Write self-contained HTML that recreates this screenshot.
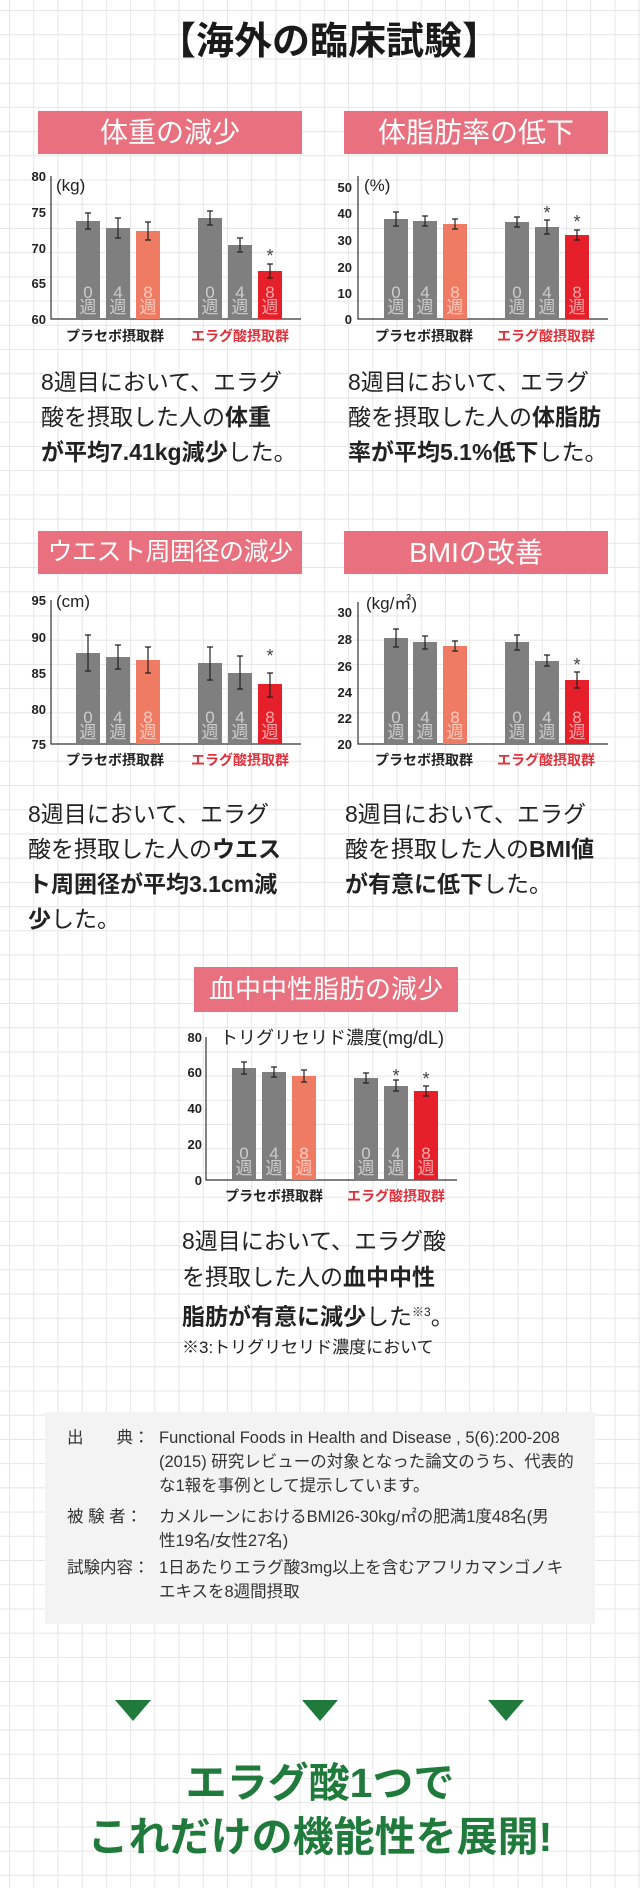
<!DOCTYPE html>
<html><head><meta charset="utf-8">
<style>
*{margin:0;padding:0;box-sizing:border-box}
body{width:640px;height:1888px;position:relative;overflow:hidden;background-color:#fff;
background-image:linear-gradient(to right,#e6e6e6 1.2px,transparent 1.2px),linear-gradient(to bottom,#e6e6e6 1.2px,transparent 1.2px);
background-size:24.22px 24.22px;background-position:9px 10px;
font-family:"Liberation Sans","Noto Sans CJK JP",sans-serif;color:#222}
.a{position:absolute;white-space:nowrap}
.h{position:absolute;background:#e8707f;color:#fff;font-size:28px;text-align:center;font-weight:normal;white-space:nowrap;overflow:hidden}
.p{position:absolute;white-space:nowrap;font-size:23px;line-height:35px;color:#222}
.p b{font-weight:bold}
svg{position:absolute;left:0;top:0}
svg text{font-family:"Liberation Sans","Noto Sans CJK JP",sans-serif}
.box{position:absolute;left:45px;top:1412px;width:550px;height:212px;background:#f3f3f3}
.f{position:absolute;font-size:16.5px;line-height:24px;color:#333;white-space:nowrap}
.g{position:absolute;left:0;width:640px;text-align:center;color:#1f7a3c;font-weight:bold;font-size:41px;white-space:nowrap}
</style></head><body>

<div class="a" style="left:158px;top:19px;font-size:38px;font-weight:bold;line-height:46px;color:#1a1a1a">【海外の臨床試験】</div>

<div class="h" style="left:38px;top:111px;width:264px;height:43px;line-height:43px">体重の減少</div>
<div class="h" style="left:344px;top:111px;width:264px;height:43px;line-height:43px">体脂肪率の低下</div>
<div class="h" style="left:38px;top:531px;width:264px;height:43px;line-height:43px;font-size:25px;letter-spacing:-0.5px">ウエスト周囲径の減少</div>
<div class="h" style="left:344px;top:531px;width:264px;height:43px;line-height:43px">BMIの改善</div>
<div class="h" style="left:194px;top:967px;width:264px;height:45px;line-height:45px;font-size:26px">血中中性脂肪の減少</div>

<svg width="640" height="1888" viewBox="0 0 640 1888">
<g stroke="#333" stroke-width="1.2" fill="none">
<path d="M51 176V319H301"/><path d="M358 176V319H608"/>
<path d="M51 600V744H301"/><path d="M358 602V744H608"/>
<path d="M206 1037V1180H457"/>
</g>
<g font-size="13" font-weight="bold" fill="#222" text-anchor="end">
<text x="46" y="181">80</text><text x="46" y="217">75</text><text x="46" y="253">70</text><text x="46" y="288">65</text><text x="46" y="324">60</text>
<text x="352" y="192">50</text><text x="352" y="218">40</text><text x="352" y="245">30</text><text x="352" y="272">20</text><text x="352" y="298">10</text><text x="352" y="324">0</text>
<text x="46" y="605">95</text><text x="46" y="642">90</text><text x="46" y="678">85</text><text x="46" y="714">80</text><text x="46" y="749">75</text>
<text x="352" y="617">30</text><text x="352" y="644">28</text><text x="352" y="671">26</text><text x="352" y="697">24</text><text x="352" y="723">22</text><text x="352" y="749">20</text>
<text x="202" y="1042">80</text><text x="202" y="1077">60</text><text x="202" y="1113">40</text><text x="202" y="1149">20</text><text x="202" y="1185">0</text>
</g>
<g font-size="17" fill="#222">
<text x="56" y="191">(kg)</text><text x="364" y="191">(%)</text>
<text x="56" y="607">(cm)</text><text x="366" y="609">(kg/㎡)</text>
<text x="220" y="1044" font-size="18">トリグリセリド濃度(mg/dL)</text>
</g>
<g>
<rect x="76" y="221" width="24" height="98" fill="#7f7f7f"/><rect x="106" y="228" width="24" height="91" fill="#7f7f7f"/><rect x="136" y="231" width="24" height="88" fill="#ef7b63"/>
<rect x="198" y="218" width="24" height="101" fill="#7f7f7f"/><rect x="228" y="245" width="24" height="74" fill="#7f7f7f"/><rect x="258" y="271" width="24" height="48" fill="#e5202a"/>
<rect x="384" y="219" width="24" height="100" fill="#7f7f7f"/><rect x="413" y="221" width="24" height="98" fill="#7f7f7f"/><rect x="443" y="224" width="24" height="95" fill="#ef7b63"/>
<rect x="505" y="222" width="24" height="97" fill="#7f7f7f"/><rect x="535" y="227" width="24" height="92" fill="#7f7f7f"/><rect x="565" y="235" width="24" height="84" fill="#e5202a"/>
<rect x="76" y="653" width="24" height="91" fill="#7f7f7f"/><rect x="106" y="657" width="24" height="87" fill="#7f7f7f"/><rect x="136" y="660" width="24" height="84" fill="#ef7b63"/>
<rect x="198" y="663" width="24" height="81" fill="#7f7f7f"/><rect x="228" y="673" width="24" height="71" fill="#7f7f7f"/><rect x="258" y="684" width="24" height="60" fill="#e5202a"/>
<rect x="384" y="638" width="24" height="106" fill="#7f7f7f"/><rect x="413" y="642" width="24" height="102" fill="#7f7f7f"/><rect x="443" y="646" width="24" height="98" fill="#ef7b63"/>
<rect x="505" y="642" width="24" height="102" fill="#7f7f7f"/><rect x="535" y="661" width="24" height="83" fill="#7f7f7f"/><rect x="565" y="680" width="24" height="64" fill="#e5202a"/>
<rect x="232" y="1068" width="24" height="112" fill="#7f7f7f"/><rect x="262" y="1072" width="24" height="108" fill="#7f7f7f"/><rect x="292" y="1076" width="24" height="104" fill="#ef7b63"/>
<rect x="354" y="1078" width="24" height="102" fill="#7f7f7f"/><rect x="384" y="1086" width="24" height="94" fill="#7f7f7f"/><rect x="414" y="1091" width="24" height="89" fill="#e5202a"/>
</g>
<g stroke="#222" stroke-width="1.2" fill="none">
<path d="M88 213V229M85 213H91M85 229H91"/><path d="M118 218V238M115 218H121M115 238H121"/><path d="M148 222V240M145 222H151M145 240H151"/>
<path d="M210 211V225M207 211H213M207 225H213"/><path d="M240 238V252M237 238H243M237 252H243"/><path d="M270 264V278M267 264H273M267 278H273"/>
<path d="M396 212V226M393 212H399M393 226H399"/><path d="M425 216V226M422 216H428M422 226H428"/><path d="M455 219V229M452 219H458M452 229H458"/>
<path d="M517 217V227M514 217H520M514 227H520"/><path d="M547 220V234M544 220H550M544 234H550"/><path d="M577 230V240M574 230H580M574 240H580"/>
<path d="M88 635V671M85 635H91M85 671H91"/><path d="M118 645V669M115 645H121M115 669H121"/><path d="M148 647V673M145 647H151M145 673H151"/>
<path d="M210 647V680M207 647H213M207 680H213"/><path d="M240 656V689M237 656H243M237 689H243"/><path d="M270 673V697M267 673H273M267 697H273"/>
<path d="M396 629V647M393 629H399M393 647H399"/><path d="M425 636V649M422 636H428M422 649H428"/><path d="M455 641V651M452 641H458M452 651H458"/>
<path d="M517 635V650M514 635H520M514 650H520"/><path d="M547 655V666M544 655H550M544 666H550"/><path d="M577 672V688M574 672H580M574 688H580"/>
<path d="M244 1062V1074M241 1062H247M241 1074H247"/><path d="M274 1067V1077M271 1067H277M271 1077H277"/><path d="M304 1070V1082M301 1070H307M301 1082H307"/>
<path d="M366 1073V1083M363 1073H369M363 1083H369"/><path d="M396 1080V1091M393 1080H399M393 1091H399"/><path d="M426 1086V1096M423 1086H429M423 1096H429"/>
</g>
<g font-size="18" fill="#444" text-anchor="middle">
<text x="270" y="262">*</text><text x="547" y="219">*</text><text x="577" y="228">*</text>
<text x="270" y="662">*</text><text x="577" y="671">*</text>
<text x="396" y="1082">*</text><text x="426" y="1085">*</text>
</g>
<g font-size="17" fill="#fff" fill-opacity="0.6" text-anchor="middle">
<text x="88" y="298">0</text><text x="88" y="313">週</text><text x="118" y="298">4</text><text x="118" y="313">週</text><text x="148" y="298">8</text><text x="148" y="313">週</text>
<text x="210" y="298">0</text><text x="210" y="313">週</text><text x="240" y="298">4</text><text x="240" y="313">週</text><text x="270" y="298">8</text><text x="270" y="313">週</text>
<text x="396" y="298">0</text><text x="396" y="313">週</text><text x="425" y="298">4</text><text x="425" y="313">週</text><text x="455" y="298">8</text><text x="455" y="313">週</text>
<text x="517" y="298">0</text><text x="517" y="313">週</text><text x="547" y="298">4</text><text x="547" y="313">週</text><text x="577" y="298">8</text><text x="577" y="313">週</text>
<text x="88" y="723">0</text><text x="88" y="738">週</text><text x="118" y="723">4</text><text x="118" y="738">週</text><text x="148" y="723">8</text><text x="148" y="738">週</text>
<text x="210" y="723">0</text><text x="210" y="738">週</text><text x="240" y="723">4</text><text x="240" y="738">週</text><text x="270" y="723">8</text><text x="270" y="738">週</text>
<text x="396" y="723">0</text><text x="396" y="738">週</text><text x="425" y="723">4</text><text x="425" y="738">週</text><text x="455" y="723">8</text><text x="455" y="738">週</text>
<text x="517" y="723">0</text><text x="517" y="738">週</text><text x="547" y="723">4</text><text x="547" y="738">週</text><text x="577" y="723">8</text><text x="577" y="738">週</text>
<text x="244" y="1159">0</text><text x="244" y="1174">週</text><text x="274" y="1159">4</text><text x="274" y="1174">週</text><text x="304" y="1159">8</text><text x="304" y="1174">週</text>
<text x="366" y="1159">0</text><text x="366" y="1174">週</text><text x="396" y="1159">4</text><text x="396" y="1174">週</text><text x="426" y="1159">8</text><text x="426" y="1174">週</text>
</g>
<g font-size="14" font-weight="bold" text-anchor="middle">
<text x="115" y="341" fill="#222">プラセボ摂取群</text><text x="240" y="341" fill="#e0303a">エラグ酸摂取群</text>
<text x="424" y="341" fill="#222">プラセボ摂取群</text><text x="546" y="341" fill="#e0303a">エラグ酸摂取群</text>
<text x="115" y="765" fill="#222">プラセボ摂取群</text><text x="240" y="765" fill="#e0303a">エラグ酸摂取群</text>
<text x="424" y="765" fill="#222">プラセボ摂取群</text><text x="546" y="765" fill="#e0303a">エラグ酸摂取群</text>
<text x="274" y="1201" fill="#222">プラセボ摂取群</text><text x="396" y="1201" fill="#e0303a">エラグ酸摂取群</text>
</g>
<g fill="#1f7a3c">
<path d="M115 1700H151L133 1721Z"/><path d="M302 1700H338L320 1721Z"/><path d="M488 1700H524L506 1721Z"/>
</g>
</svg>

<div class="p" style="left:41px;top:365px">8週目において、エラグ<br>酸を摂取した人の<b>体重</b><br><b>が平均7.41kg減少</b>した。</div>
<div class="p" style="left:348px;top:365px">8週目において、エラグ<br>酸を摂取した人の<b>体脂肪</b><br><b>率が平均5.1%低下</b>した。</div>
<div class="p" style="left:28px;top:797px">8週目において、エラグ<br>酸を摂取した人の<b>ウエス</b><br><b>ト周囲径が平均3.1cm減</b><br><b>少</b>した。</div>
<div class="p" style="left:345px;top:797px">8週目において、エラグ<br>酸を摂取した人の<b>BMI値</b><br><b>が有意に低下</b>した。</div>
<div class="p" style="left:182px;top:1224px;line-height:35.5px">8週目において、エラグ酸<br>を摂取した人の<b>血中中性</b><br><b>脂肪が有意に減少</b>した<sup style="font-size:12px">※3</sup>。</div>
<div class="a" style="left:182px;top:1337px;font-size:17px;line-height:22px">※3:トリグリセリド濃度において</div>

<div class="box"></div>
<div class="f" style="left:67px;top:1426px">出　　典：</div>
<div class="f" style="left:159px;top:1426px">Functional Foods in Health and Disease , 5(6):200-208<br>(2015) 研究レビューの対象となった論文のうち、代表的<br>な1報を事例として提示しています。</div>
<div class="f" style="left:67px;top:1505px">被 験 者：</div>
<div class="f" style="left:159px;top:1505px">カメルーンにおけるBMI26-30kg/㎡の肥満1度48名(男<br>性19名/女性27名)</div>
<div class="f" style="left:67px;top:1556px">試験内容：</div>
<div class="f" style="left:159px;top:1556px">1日あたりエラグ酸3mg以上を含むアフリカマンゴノキ<br>エキスを8週間摂取</div>

<div class="g" style="top:1758px;line-height:50px">エラグ酸1つで</div>
<div class="g" style="top:1812px;line-height:50px">これだけの機能性を展開!</div>
</body></html>
